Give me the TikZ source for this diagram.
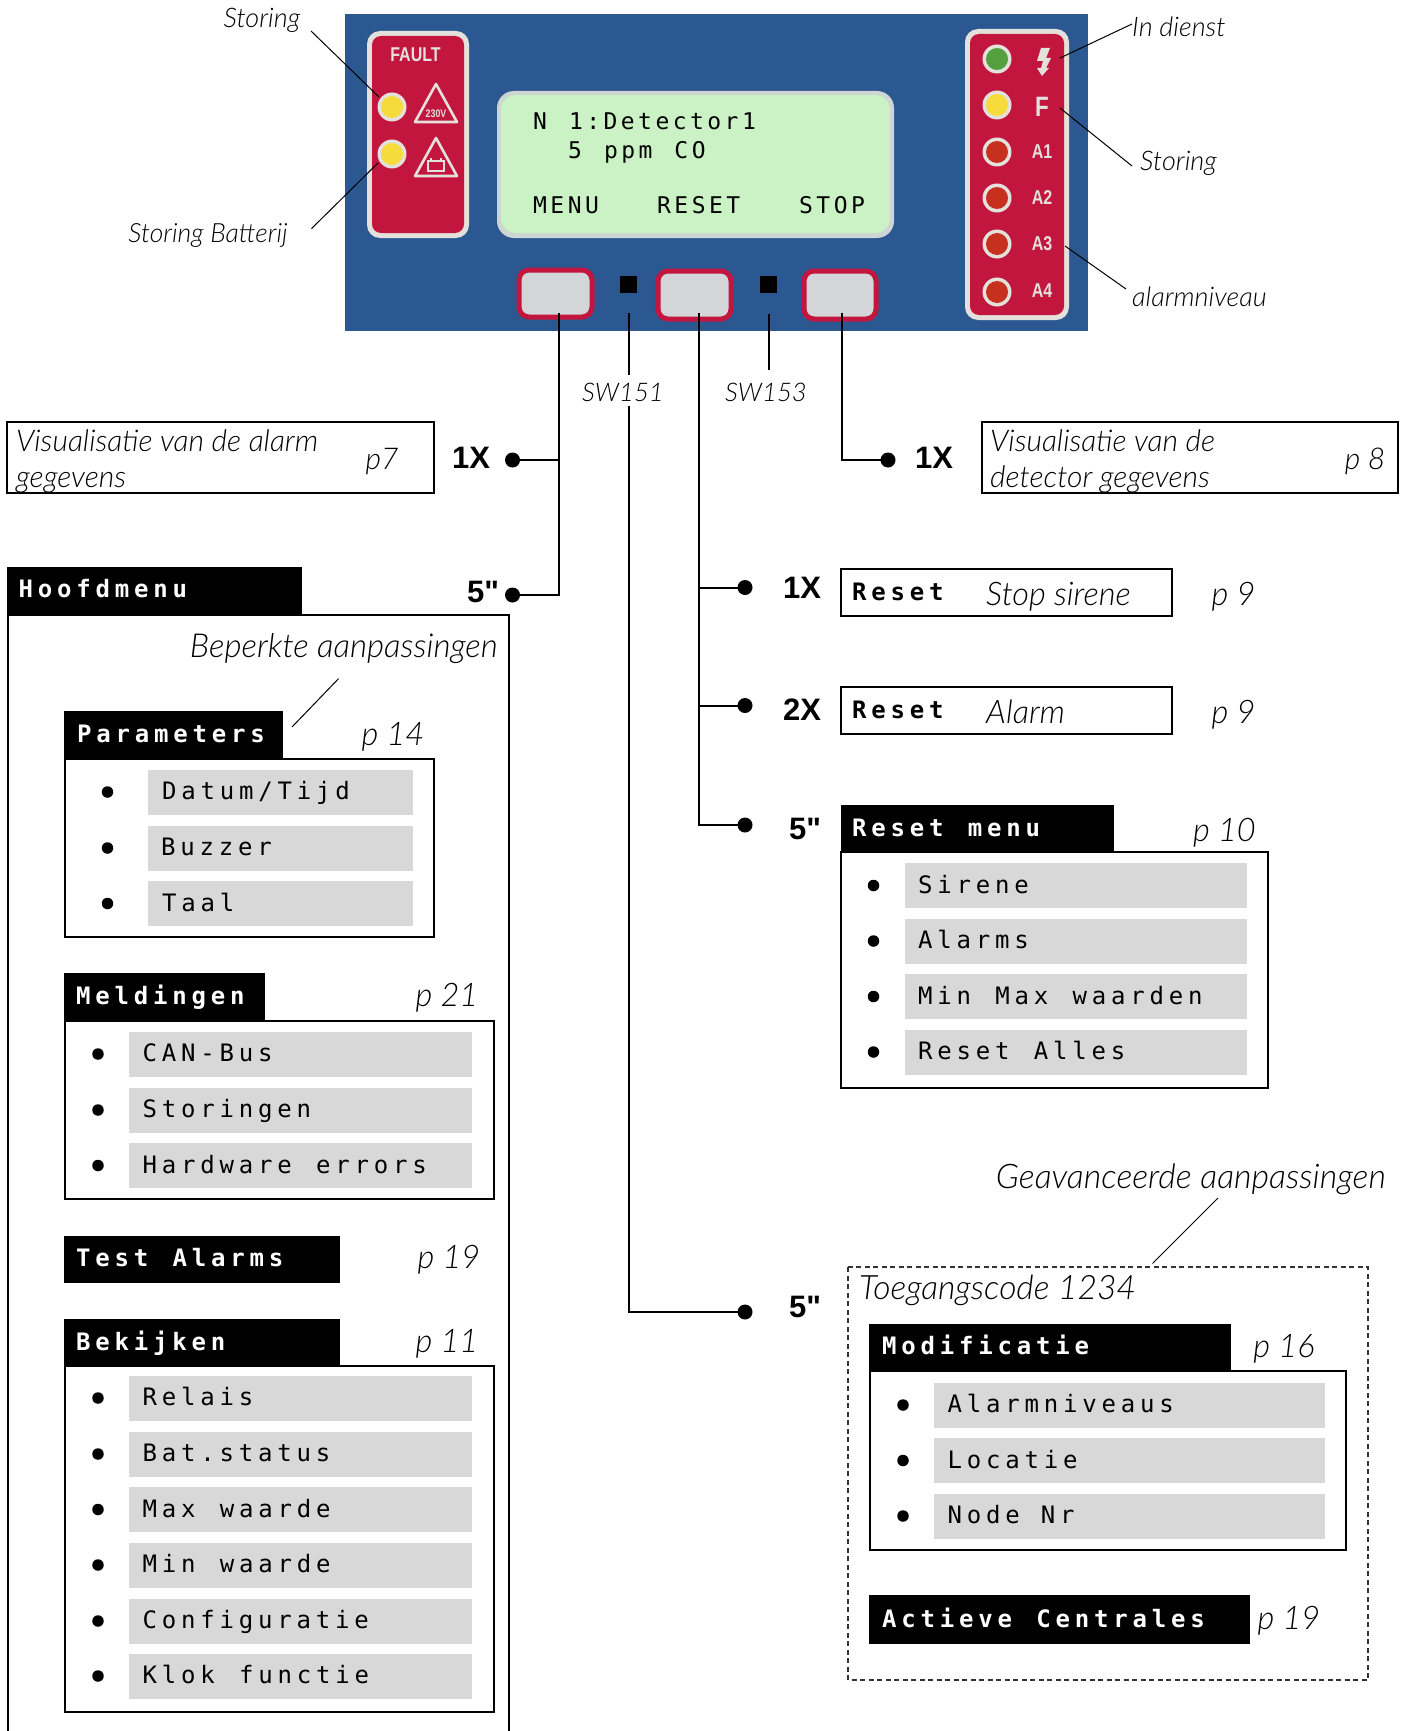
\documentclass[tikz,border=0pt]{standalone}
\usepackage{fontspec}
\setmainfont{Liberation Sans}
\newfontfamily\futf{Lato Light Italic}
\newfontfamily\monof[LetterSpace=20]{DejaVu Sans Mono}
\newfontfamily\monob[LetterSpace=20]{DejaVu Sans Mono Bold}
\newfontfamily\lcdf[LetterSpace=15]{DejaVu Sans Mono}
\newfontfamily\panelf[FakeStretch=0.8]{Liberation Sans Bold}
\newfontfamily\boldf{Liberation Sans Bold}
\definecolor{panelblue}{HTML}{2B5891}
\definecolor{panelred}{HTML}{C2163F}
\definecolor{rim}{HTML}{E4E0DC}
\definecolor{lcdgreen}{HTML}{CBF2C4}
\definecolor{lcdrim}{HTML}{CDD6D2}
\definecolor{btngrey}{HTML}{D3D5D8}
\definecolor{itemgrey}{HTML}{D8D8D8}
\definecolor{ledyellow}{HTML}{F5DC3A}
\definecolor{ledgreen}{HTML}{54A03F}
\definecolor{ledred}{HTML}{C7301F}
\tikzset{
  rectbox/.style={draw=black,line width=2pt,fill=white,inner sep=0pt,outer sep=0pt},
  hdr/.style={fill=black,inner sep=0pt,outer sep=0pt},
  item/.style={fill=itemgrey,inner sep=0pt,outer sep=0pt},
  btn/.style={draw=panelred,line width=5pt,fill=btngrey,rounded corners=10pt,inner sep=0pt,outer sep=0pt},
  sq/.style={fill=black,inner sep=0pt,outer sep=0pt},
  fut/.style={font=\futf\fontsize{32.5}{32.5}\selectfont,text=black,inner sep=0pt,text height=23pt,text depth=0pt},
  futl/.style={font=\futf\fontsize{33.6}{33.6}\selectfont,text=black,inner sep=0pt,text height=23.5pt,text depth=0pt},
  futm/.style={font=\futf\fontsize{30}{30}\selectfont,text=black,inner sep=0pt,text height=21pt,text depth=0pt},
  futs/.style={font=\futf\fontsize{27}{27}\selectfont,text=black,inner sep=0pt,text height=19pt,text depth=0pt},
  futx/.style={font=\futf\fontsize{25.7}{25.7}\selectfont,text=black,inner sep=0pt,text height=18pt,text depth=0pt},
  hdrt/.style={font=\monob\fontsize{24}{24}\selectfont,text=white,inner sep=0pt,text height=17.5pt,text depth=0pt,anchor=west},
  itemt/.style={font=\monof\fontsize{24}{24}\selectfont,text=black,inner sep=0pt,text height=17.5pt,text depth=0pt,anchor=west},
  resett/.style={font=\monob\fontsize{24}{24}\selectfont,text=black,inner sep=0pt,text height=17.5pt,text depth=0pt,anchor=west},
  lcdt/.style={font=\lcdf\fontsize{23}{23}\selectfont,text=black,inner sep=0pt,text height=16.8pt,text depth=0pt,anchor=west},
  presst/.style={font=\boldf\fontsize{31}{31}\selectfont,text=black,inner sep=0pt,text height=22pt,text depth=0pt},
  dotn/.style={circle,fill=black,inner sep=0pt,outer sep=0pt,minimum size=15pt},
  bull/.style={circle,fill=black,inner sep=0pt,outer sep=0pt,minimum size=11.5pt},
  conn/.style={draw=black,line width=2pt},
  lead/.style={draw=black,line width=1pt},
  ledo/.style={circle,fill=rim,inner sep=0pt,minimum size=29pt},
  paneltext/.style={font=\panelf\fontsize{20}{20}\selectfont,text=rim,inner sep=0pt},
}
\newcommand{\rbox}[6]{\node[#6,minimum width={(#4-#2)*1pt},minimum height={((#5)-(#3))*1pt}] (#1) at ({(#2+#4)/2},{(#3+#5)/2}) {};}
\newcommand{\led}[3]{\node[ledo] at (#1,#2) {}; \fill[#3] (#1,#2) circle (11);}
\newcommand{\itemrow}[7]{% name, bulletx, greyx1, greyx2, cy, textx, text
  \node[bull] (#1b) at (#2,#5) {};
  \rbox{#1}{#3}{#5-22.5}{#4}{#5+22.5}{item}
  \node[itemt] (#1t) at (#6,#5-1) {#7};}
\newcommand{\msp}{\hspace*{24.3pt}}
\newcommand{\lsp}{\hspace*{22pt}}
\begin{document}
\begin{tikzpicture}[x=1pt,y=-1pt]
\useasboundingbox (0,0) rectangle (1408,1731);
% panel
\fill[panelblue] (344.5,14) rectangle (1088,331);
\fill[rim,rounded corners=13pt] (367,31) rectangle (469,238);
\fill[panelred,rounded corners=9pt] (372,36) rectangle (464,233);
\fill[rim,rounded corners=13pt] (965,29) rectangle (1069,320);
\fill[panelred,rounded corners=9pt] (970,34) rectangle (1064,315);
\fill[lcdrim,rounded corners=17pt] (497,91) rectangle (894,238);
\fill[lcdgreen,rounded corners=15pt] (501,95) rectangle (890,233);
\node[paneltext] (fault) at (415.5,55) {FAULT};
\led{392}{107}{ledyellow}
\led{392}{154}{ledyellow}
\draw[rim,line width=2.6pt,line join=round] (436,84) -- (415,122) -- (457,122) -- cycle;
\draw[rim,line width=2.6pt,line join=round] (436,138) -- (415,176) -- (457,176) -- cycle;
\node[font=\panelf\fontsize{11}{11}\selectfont,text=rim,inner sep=0pt] (v230) at (436,114) {230V};
\draw[rim,line width=1.6pt] (428,161) rectangle (444,171);
\draw[rim,line width=1.6pt] (431,161) -- (431,158.5) (441,161) -- (441,158.5);
\led{997}{59}{ledgreen}
\led{997}{105}{ledyellow}
\led{997}{152}{ledred}
\led{997}{198}{ledred}
\led{997}{244}{ledred}
\led{997}{292}{ledred}
\fill[rim] (1041,48) -- (1050,48) -- (1046,58) -- (1051,58) -- (1046,68) -- (1049,68) -- (1042,76) -- (1037,68) -- (1041,68) -- (1043,61) -- (1037,61) -- cycle;
\node[paneltext,font=\panelf\fontsize{28}{28}\selectfont] (lF) at (1042,107) {F};
\node[paneltext] (lA1) at (1042,152) {A1};
\node[paneltext] (lA2) at (1042,198) {A2};
\node[paneltext] (lA3) at (1042,244) {A3};
\node[paneltext] (lA4) at (1042,291) {A4};
\node[lcdt] (l1) at (533,121) {N\lsp 1:Detector1};
\node[lcdt] (l2) at (568,150) {5\lsp ppm\lsp CO};
\node[lcdt] (l3) at (533,205) {MENU};
\node[lcdt] (l4) at (657,205) {RESET};
\node[lcdt] (l5) at (799,205) {STOP};
\rbox{b1}{519}{270}{592}{317}{btn}
\rbox{b2}{658}{271}{731}{319}{btn}
\rbox{b3}{804}{271}{876}{319}{btn}
\rbox{s1}{620}{276}{637}{293}{sq}
\rbox{s2}{760}{276}{777}{293}{sq}
\coordinate (bl1) at (559,313);
\coordinate (bl2) at (699,313);
\coordinate (bl3) at (842,313);
\coordinate (sw1) at (628.5,313);
\coordinate (sw3) at (769,314);
% panel labels
\node[futs] (nStoringL) at (262,18) {Storing};
\node[futs,font=\futf\fontsize{26.5}{26.5}\selectfont] (nBatt) at (208,233) {Storing Batterij};
\node[futs,anchor=west] (nDienst) at (1132,27) {In dienst};
\node[futs,anchor=west] (nStoringR) at (1140,161) {Storing};
\node[futs,anchor=west] (nAlarm) at (1132,297) {alarmniveau};
\coordinate (a1) at (311,31); \coordinate (a2) at (379,97);
\coordinate (c1) at (311.5,228.6); \coordinate (c2) at (378,163);
\coordinate (d1) at (1132,24); \coordinate (d2) at (1060,58);
\coordinate (e1) at (1132,166); \coordinate (e2) at (1060,108);
\coordinate (f1) at (1126,289); \coordinate (f2) at (1065,246);
\draw[lead] (a1) -- (a2);
\draw[lead] (c1) -- (c2);
\draw[lead] (d1) -- (d2);
\draw[lead] (e1) -- (e2);
\draw[lead] (f1) -- (f2);
% SW labels
\node[futx] (sw151) at (623,392) {SW151};
\node[futx] (sw153) at (766,392) {SW153};
% top boxes
\rbox{boxL}{7}{421.5}{434}{493}{rectbox}
\node[futm,anchor=west] (tL1) at (16,441) {Visualisatie van de alarm};
\node[futm,anchor=west] (tL2) at (16,477) {gegevens};
\node[futm] (pL) at (382,459) {p7};
\rbox{boxR}{982}{421.5}{1398}{493}{rectbox}
\node[futm,anchor=west] (tR1) at (990,441) {Visualisatie van de};
\node[futm,anchor=west] (tR2) at (990,477) {detector gegevens};
\node[futm] (pR) at (1365,459) {p 8};
\node[presst] (x1L) at (471,457) {1X};
\node[dotn] (dL1) at (512.5,460) {};
\node[presst] (x5L) at (483,591) {5"};
\node[dotn] (dL2) at (512.5,595) {};
\node[presst] (x1R) at (934,457) {1X};
\node[dotn] (dR1) at (888,460) {};
\node[presst] (x1M) at (802,587) {1X};
\node[dotn] (dM1) at (745,587.5) {};
\node[presst] (x2M) at (802,709) {2X};
\node[dotn] (dM2) at (745,705.5) {};
\node[presst] (x5M) at (805,828) {5"};
\node[dotn] (dM3) at (745,825) {};
\node[presst] (x5B) at (805,1306) {5"};
\node[dotn] (dB) at (745,1312) {};
% connectors
\coordinate (sw1a) at (628.5,375);
\coordinate (sw1b) at (628.5,406);
\coordinate (sw3e) at (769,370);
\draw[conn] (bl1) |- (dL2);
\draw[conn] (bl1 |- dL1) -- (dL1);
\draw[conn] (bl2) |- (dM3);
\draw[conn] (bl2 |- dM1) -- (dM1);
\draw[conn] (bl2 |- dM2) -- (dM2);
\draw[conn] (bl3) |- (dR1);
\draw[conn] (sw1) -- (sw1a);
\draw[conn] (sw1b) |- (dB);
\draw[conn] (sw3) -- (sw3e);
% Hoofdmenu
\draw[conn] (8,615) -- (8,1731);
\draw[conn] (7,615) -- (509,615) -- (509,1731);
\rbox{hM}{6.5}{567}{302}{615}{hdr}
\node[hdrt] (hMt) at (18.5,589) {Hoofdmenu};
\node[fut,font=\futf\fontsize{33}{33}\selectfont,anchor=east] (beperkt) at (498,646) {Beperkte aanpassingen};
\coordinate (bp1) at (338.6,678.6); \coordinate (bp2) at (292,727);
\draw[lead] (bp1) -- (bp2);
% Parameters
\rbox{bP}{65}{759}{434}{937}{rectbox}
\rbox{hP}{64}{711}{282.5}{759}{hdr}
\node[hdrt] (hPt) at (77,734) {Parameters};
\node[fut] (pP) at (393,734) {p 14};
\itemrow{p1}{107.5}{148}{412.5}{792}{162}{Datum/Tijd}
\itemrow{p2}{107.5}{148}{412.5}{848}{161}{Buzzer}
\itemrow{p3}{107.5}{148}{412.5}{903.5}{162}{Taal}
% Meldingen
\rbox{bM}{65}{1020.5}{493.5}{1199}{rectbox}
\rbox{hMe}{64}{973}{265}{1021}{hdr}
\node[hdrt] (hMet) at (76,996) {Meldingen};
\node[fut] (pMe) at (447,995) {p 21};
\itemrow{m1}{98}{129}{471.5}{1054}{142.5}{CAN-Bus}
\itemrow{m2}{98}{129}{471.5}{1110}{142.5}{Storingen}
\itemrow{m3}{98}{129}{471.5}{1165.5}{142.5}{Hardware\msp errors}
% Test alarms
\rbox{hT}{64}{1236}{340}{1283}{hdr}
\node[hdrt] (hTt) at (76,1258) {Test\msp Alarms};
\node[fut] (pT) at (449,1257) {p 19};
% Bekijken
\rbox{bB}{65}{1366}{493.5}{1712}{rectbox}
\rbox{hB}{64}{1318.5}{340}{1366}{hdr}
\node[hdrt] (hBt) at (76,1342) {Bekijken};
\node[fut] (pB) at (447,1341) {p 11};
\itemrow{k1}{98}{129}{471.5}{1398}{142.5}{Relais}
\itemrow{k2}{98}{129}{471.5}{1454}{142.5}{Bat.status}
\itemrow{k3}{98}{129}{471.5}{1509.5}{142.5}{Max\msp waarde}
\itemrow{k4}{98}{129}{471.5}{1565}{142.5}{Min\msp waarde}
\itemrow{k5}{98}{129}{471.5}{1621}{142.5}{Configuratie}
\itemrow{k6}{98}{129}{471.5}{1676}{142.5}{Klok\msp functie}
% Reset
\rbox{r1}{841}{569}{1171.5}{616}{rectbox}
\node[resett] (r1t) at (852,592) {Reset};
\node[fut,anchor=west] (r1s) at (986,594) {Stop sirene};
\node[fut] (pr1) at (1233.5,594) {p 9};
\rbox{r2}{841}{687}{1171.5}{734}{rectbox}
\node[resett] (r2t) at (852,710) {Reset};
\node[fut,anchor=west] (r2s) at (986,712) {Alarm};
\node[fut] (pr2) at (1233.5,712) {p 9};
% Reset menu
\rbox{bRm}{841}{851.5}{1268}{1088}{rectbox}
\rbox{hRm}{840.5}{805}{1114}{852}{hdr}
\node[hdrt] (hRmt) at (852,828) {Reset\msp menu};
\node[fut] (pRm) at (1224.5,830) {p 10};
\itemrow{q1}{873.5}{904.5}{1247}{885.5}{918}{Sirene}
\itemrow{q2}{873.5}{904.5}{1247}{941}{918}{Alarms}
\itemrow{q3}{873.5}{904.5}{1247}{996.5}{918}{Min\msp Max\msp waarden}
\itemrow{q4}{873.5}{904.5}{1247}{1052}{918}{Reset\msp Alles}
% Advanced
\node[futl,font=\futf\fontsize{33.9}{33.9}\selectfont,anchor=east] (gev) at (1386,1177) {Geavanceerde aanpassingen};
\coordinate (gv1) at (1218,1198); \coordinate (gv2) at (1152.5,1263.5);
\draw[lead] (gv1) -- (gv2);
\draw[black!80,line width=1.1pt,dash pattern=on 5pt off 3.5pt] (848,1267) rectangle (1368,1680);
\node[futl,anchor=west] (toeg) at (859,1287.5) {Toegangscode 1234};
\rbox{bMo}{870}{1371}{1346}{1550}{rectbox}
\rbox{hMo}{869}{1324}{1231}{1371}{hdr}
\node[hdrt] (hMot) at (882,1346) {Modificatie};
\node[fut] (pMo) at (1284,1346) {p 16};
\itemrow{o1}{903}{934}{1325}{1405}{947.5}{Alarmniveaus}
\itemrow{o2}{903}{934}{1325}{1460.5}{947.5}{Locatie}
\itemrow{o3}{903}{934}{1325}{1516}{947.5}{Node\hspace*{21pt}Nr}
\rbox{hA}{869}{1595}{1250}{1644}{hdr}
\node[hdrt] (hAt) at (882,1618.5) {Actieve\msp Centrales};
\node[fut] (pA) at (1289,1618) {p 19};
\end{tikzpicture}
\end{document}
